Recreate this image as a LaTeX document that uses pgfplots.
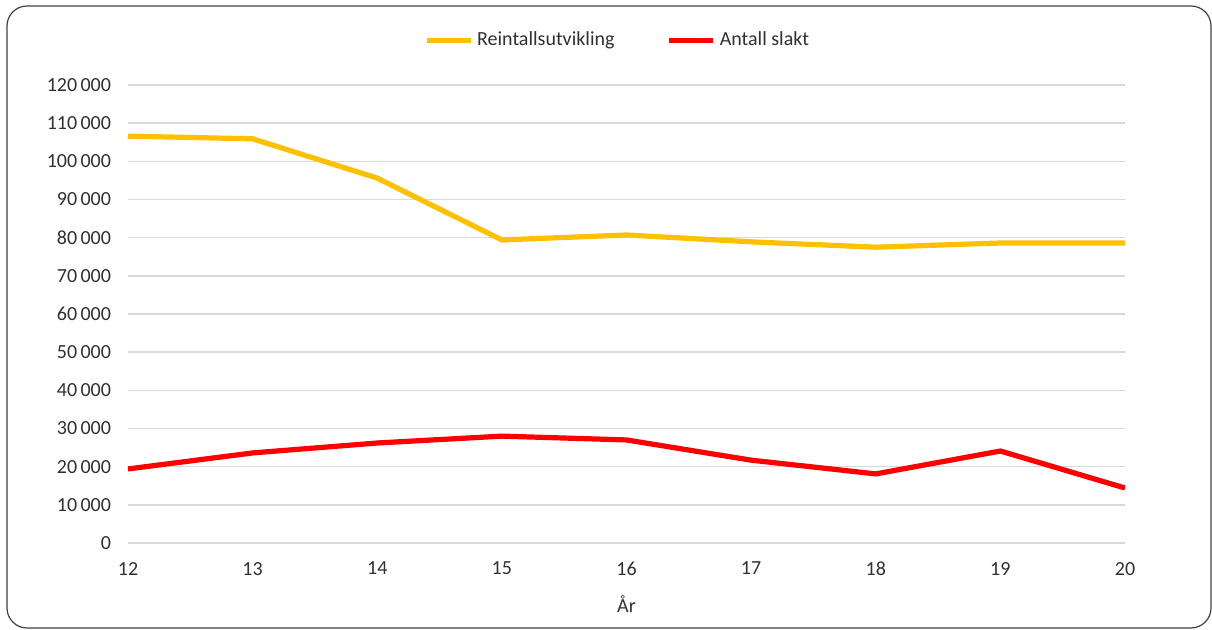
\documentclass[border=0pt]{standalone}
\usepackage{pgfplots}
\pgfplotsset{compat=1.18}
\usepackage{fontspec}
\setmainfont{Carlito}
\definecolor{reinYellow}{HTML}{FFC000}
\definecolor{slaktRed}{HTML}{FF0000}
\definecolor{gridGray}{HTML}{D9D9D9}
\definecolor{txtGray}{HTML}{303030}
\begin{document}
\begin{tikzpicture}
    % page and rounded frame (1px = 0.5pt, axis origin at px (128,543))
    \path (-64pt,-43.5pt) rectangle (542pt,271.5pt);
    \draw[black!75, line width=0.6pt, rounded corners=10pt] (-60.5pt,-42.5pt) rectangle (541.5pt,268.5pt);
    \begin{axis}[
            scale only axis,
            width=498.5pt,
            height=229pt,
            at={(0pt,0pt)},
            anchor=south west,
            xmin=12, xmax=20,
            ymin=0, ymax=120000,
            scaled y ticks=false,
            xtick={12,...,20},
            xticklabels={12,13,14,15,16,17,18,19,20},
            ytick={0,10000,...,120000},
            yticklabels={0,10\thinspace000,20\thinspace000,30\thinspace000,40\thinspace000,50\thinspace000,60\thinspace000,70\thinspace000,80\thinspace000,90\thinspace000,100\thinspace000,110\thinspace000,120\thinspace000},
            axis line style={draw=none},
            ymajorgrids,
            grid style={gridGray, line width=0.8pt},
            major tick length=0pt,
            tick label style={font=\fontsize{10}{12}\selectfont, text=txtGray},
            yticklabel style={xshift=-5pt},
            xticklabel style={yshift=-6pt},
            xlabel={År},
            xlabel style={font=\fontsize{10}{12}\selectfont, text=txtGray, yshift=-3pt},
            legend columns=2,
            legend style={at={(0.492,1.098)}, anchor=center, draw=none, fill=none,
                    font=\fontsize{10}{12}\selectfont, text=txtGray,
                    /tikz/every even column/.append style={column sep=24pt}},
            legend image code/.code={\draw[#1] (0pt,0pt) -- (22pt,0pt);},
            legend cell align=left,
        ]
        \addplot [reinYellow, line width=2.6pt] coordinates {
                (12,106600)
                (13,105900)
                (14,95600)
                (15,79400)
                (16,80700)
                (17,78900)
                (18,77500)
                (19,78600)
                (20,78600)
            };
        \addlegendentry{Reintallsutvikling}
        \addplot [slaktRed, line width=2.6pt] coordinates {
                (12,19400)
                (13,23600)
                (14,26200)
                (15,28000)
                (16,27000)
                (17,21700)
                (18,18100)
                (19,24100)
                (20,14400)
            };
        \addlegendentry{Antall slakt}
    \end{axis}
\end{tikzpicture}
\end{document}
